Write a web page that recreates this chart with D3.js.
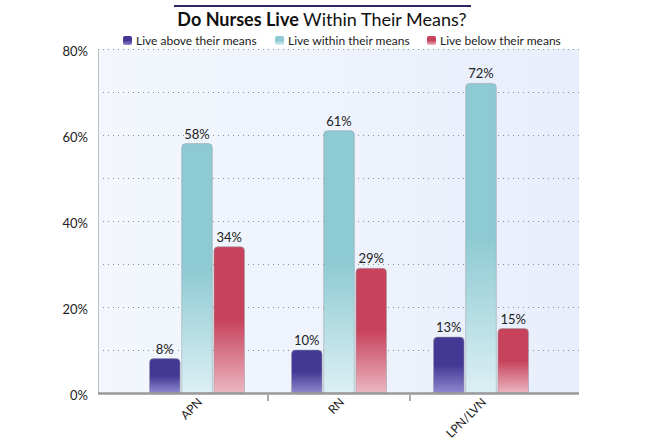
<!DOCTYPE html>
<html><head><meta charset="utf-8">
<script src="https://cdn.jsdelivr.net/npm/d3@7"></script>
<style>
body{margin:0;background:#fff;}
svg{display:block;font-family:"Lato","Open Sans",sans-serif;}
</style></head>
<body>
<script>
const categories = ["APN", "RN", "LPN/LVN"];
const seriesNames = ["Live above their means", "Live within their means", "Live below their means"];
const above = [8, 10, 13];
const within = [58, 61, 72];
const below = [34, 29, 15];
const yTicks = [0, 20, 40, 60, 80];

(function(){
const W = 645, H = 439;
const pL = 98, pR = 579, pT = 49, pB = 393;
const svg = d3.select("body").append("svg").attr("width", W).attr("height", H);
const defs = svg.append("defs");

const colors = [
  {top:"#433894", bottom:"#8f89cf"},
  {top:"#8ecad3", bottom:"#dcf0f4"},
  {top:"#c7435b", bottom:"#ebb6c2"}
];
colors.forEach((c,i)=>{
  const g = defs.append("linearGradient").attr("id","g"+i).attr("x1",0).attr("y1",0).attr("x2",0).attr("y2",1);
  g.append("stop").attr("offset","0").attr("stop-color",c.top);
  g.append("stop").attr("offset","0.5").attr("stop-color",c.top);
  g.append("stop").attr("offset","1").attr("stop-color",c.bottom);
});
const bg = defs.append("linearGradient").attr("id","bg").attr("x1",0).attr("y1",0).attr("x2",1).attr("y2",0);
bg.append("stop").attr("offset","0").attr("stop-color","#f3f7fd");
bg.append("stop").attr("offset","1").attr("stop-color","#e8eefb");

const y = d3.scaleLinear().domain([0,80]).range([pB, pT]);
const x = d3.scaleBand().domain(categories).range([126, 552]).padding(0);
const inner = d3.scaleBand().domain([0,1,2]).range([0, 95]).paddingInner(0.05);
const groupOffset = (x.bandwidth() - 95) / 2;

svg.append("rect").attr("x", pL).attr("y", pT).attr("width", pR-pL).attr("height", pB-pT).attr("fill","url(#bg)");

const grid = d3.range(10, 81, 10);
svg.append("g").selectAll("line").data(grid).join("line")
  .attr("x1", pL).attr("x2", pR)
  .attr("y1", d=>y(d)+0.5).attr("y2", d=>y(d)+0.5)
  .attr("stroke","#8a8f99").attr("stroke-width",1).attr("stroke-dasharray","1,4");

const yAxis = svg.append("g").attr("transform",`translate(${pL},0)`)
  .call(d3.axisLeft(y).tickValues(yTicks).tickFormat(d=>d+"%").tickSize(0).tickPadding(10));
yAxis.select(".domain").attr("stroke","#b8bcc4").attr("stroke-width",1);
yAxis.selectAll("text").attr("font-size",13).attr("fill","#222").attr("font-family","Lato, 'Open Sans', sans-serif").attr("dy","0.5em");

const data = [above, within, below];
categories.forEach((cat, ci)=>{
  data.forEach((series, si)=>{
    const v = series[ci];
    const bx = x(cat) + groupOffset + inner(si);
    const bw = inner.bandwidth();
    const by = y(v);
    const r = 4;
    const p = `M${bx},${pB} L${bx},${by+r} Q${bx},${by} ${bx+r},${by} L${bx+bw-r},${by} Q${bx+bw},${by} ${bx+bw},${by+r} L${bx+bw},${pB} Z`;
    svg.append("path").attr("d", p).attr("fill", `url(#g${si})`)
      .attr("stroke","#9aa0a8").attr("stroke-opacity",0.55).attr("stroke-width",1);
    svg.append("text").attr("x", bx+bw/2).attr("y", by-5).attr("text-anchor","middle")
      .attr("font-size",13).attr("fill","#222").text(v+"%");
  });
});

const xAxis = svg.append("g").attr("transform",`translate(0,${pB})`);
xAxis.append("line").attr("x1",pL).attr("x2",pR).attr("y1",0.5).attr("y2",0.5)
  .attr("stroke","#999").attr("stroke-width",2.5);
const bounds = [x(categories[1]), x(categories[2])];
xAxis.selectAll("line.tk").data(bounds).join("line").attr("class","tk")
  .attr("x1",d=>d).attr("x2",d=>d).attr("y1",2).attr("y2",8).attr("stroke","#555").attr("stroke-width",1);
xAxis.selectAll("text").data(categories).join("text")
  .attr("transform", d=>`translate(${x(d)+x.bandwidth()/2+3},${7}) rotate(-45)`)
  .attr("text-anchor","end").attr("dy","0.35em").attr("font-size",12).attr("fill","#222").text(d=>d);

svg.append("line").attr("x1",174).attr("x2",471).attr("y1",6).attr("y2",6).attr("stroke","#2b2660").attr("stroke-width",2);
const title = svg.append("text").attr("x",322).attr("y",26).attr("text-anchor","middle").attr("font-size",18).attr("fill","#111");
title.append("tspan").attr("font-weight","bold").text("Do Nurses Live");
title.append("tspan").text(" Within Their Means?");

const legX = [123, 275, 427];
const lg = svg.append("g");
seriesNames.forEach((n,i)=>{
  lg.append("rect").attr("x",legX[i]).attr("y",36).attr("width",9).attr("height",9).attr("rx",2)
    .attr("fill", `url(#g${i})`);
  lg.append("text").attr("x",legX[i]+13).attr("y",45).attr("font-size",12).attr("fill","#222").text(n);
});
})();
</script>
</body></html>
